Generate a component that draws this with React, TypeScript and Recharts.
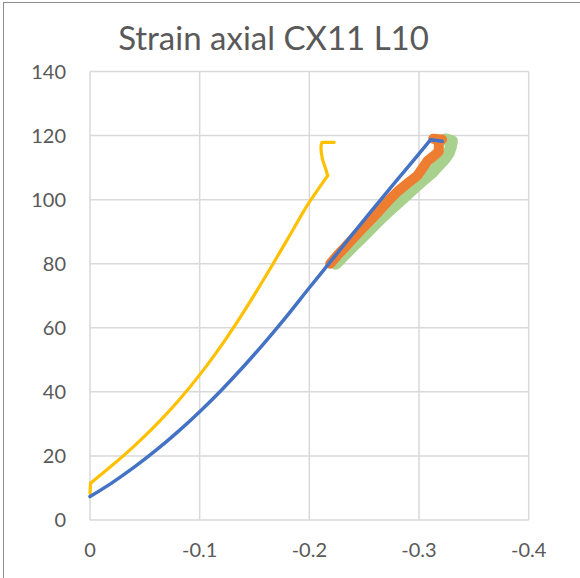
import { LineChart, Line, XAxis, YAxis, CartesianGrid } from "recharts";

// values (x = axial strain, y = load)
const blueX = [0, -0.02, -0.04, -0.06, -0.08, -0.1, -0.12, -0.14, -0.16, -0.18, -0.2, -0.217, -0.237, -0.2576, -0.28, -0.298, -0.3106];
const blueY = [7.3, 11.6, 16.4, 21.7, 27.5, 33.8, 40.6, 47.9, 55.7, 63.9, 72.5, 79.7, 88.2, 96.9, 106.2, 113.5, 118.7];
// short flat tail after the peak
const blueTailX = [-0.3106, -0.3212];
const blueTailY = [118.7, 118.2];

const yellowX = [-0.0005, -0.02, -0.04, -0.06, -0.08, -0.1, -0.12, -0.14, -0.16, -0.18, -0.2, -0.21, -0.2167];
const yellowY = [11.5, 17, 23, 29.6, 37, 45.3, 54.6, 64.9, 76, 87.6, 99.2, 104.2, 107.5];
// start and the hook at the top, which double back on x
const yellowStartX = [0, -0.0005];
const yellowStartY = [8.3, 11.5];
const yellowHookX = [-0.2167, -0.215, -0.2125, -0.211, -0.2106, -0.2115, -0.2227];
const yellowHookY = [107.5, 109.5, 112, 114.5, 116.5, 117.9, 117.9];

const orangeX = [-0.219, -0.226, -0.233, -0.241, -0.249, -0.257, -0.265, -0.273, -0.281, -0.29, -0.2985, -0.3076, -0.314, -0.318, -0.318, -0.313, -0.321];
const orangeY = [80, 82.8, 85.3, 88.3, 91.2, 94, 97, 100, 102.7, 105.2, 107.5, 112, 113.8, 115, 118.5, 119, 118.8];

const greenX = [-0.224, -0.232, -0.24, -0.248, -0.256, -0.264, -0.272, -0.28, -0.288, -0.296, -0.304, -0.312, -0.318, -0.3227, -0.327, -0.329, -0.33, -0.324];
const greenY = [80, 82.8, 85.5, 88.2, 91, 93.7, 96.3, 98.8, 101.3, 103.8, 106.2, 108.5, 110.8, 112.5, 114.5, 116.5, 118.3, 118.8];

const xTicks = [0, -0.1, -0.2, -0.3, -0.4];
const yTicks = [0, 20, 40, 60, 80, 100, 120, 140];

const zip = (xs: number[], ys: number[]) => xs.map((x, i) => ({ x, y: ys[i] }));

const tickStyle = { fontSize: 20, fontFamily: "Lato", fill: "#595959" };
const common = { dataKey: "y", dot: false, activeDot: false, isAnimationActive: false, strokeLinejoin: "round", strokeLinecap: "round" } as const;

export default function App() {
  return (
    <div style={{ position: "absolute", left: 0, top: 0, width: 580, height: 578, overflow: "hidden", background: "#fff" }}>
      <div style={{ position: "absolute", left: 3, top: 2, width: 600, height: 600, border: "1px solid #8c8c8c" }} />
      <div
        style={{
          position: "absolute", left: 0, width: 547, top: 17, textAlign: "center",
          fontFamily: "Lato", fontSize: 33, color: "#595959", lineHeight: "40px",
        }}
      >
        Strain axial CX11 L10
      </div>
      <div style={{ position: "absolute", left: 0, top: 0 }}>
        <LineChart width={580} height={578} margin={{ top: 71.5, right: 51.3, bottom: 0, left: 0 }}>
          <CartesianGrid stroke="#d9d9d9" strokeWidth={1.5} />
          <XAxis
            dataKey="x" type="number" domain={[-0.4, 0]} reversed ticks={xTicks}
            tickFormatter={(v: number) => String(v)} axisLine={false} tickLine={false}
            tickSize={0} tickMargin={23} height={58} tick={tickStyle} interval={0}
          />
          <YAxis
            dataKey="y" type="number" domain={[0, 140]} ticks={yTicks}
            axisLine={false} tickLine={false} tickSize={0} tickMargin={24} width={90} tick={tickStyle} interval={0}
          />
          <Line {...common} data={zip(greenX, greenY)} stroke="#a9d18e" strokeWidth={12} />
          <Line {...common} data={zip(orangeX, orangeY)} stroke="#ed7d31" strokeWidth={10} />
          <Line {...common} data={zip(yellowStartX, yellowStartY)} stroke="#ffc000" strokeWidth={3.2} />
          <Line {...common} data={zip(yellowX, yellowY)} type="monotone" stroke="#ffc000" strokeWidth={3.2} />
          <Line {...common} data={zip(yellowHookX, yellowHookY)} type="monotoneY" stroke="#ffc000" strokeWidth={3.2} />
          <Line {...common} data={zip(blueX, blueY)} type="monotone" stroke="#4472c4" strokeWidth={3.5} />
          <Line {...common} data={zip(blueTailX, blueTailY)} stroke="#4472c4" strokeWidth={3.5} />
        </LineChart>
      </div>
    </div>
  );
}
